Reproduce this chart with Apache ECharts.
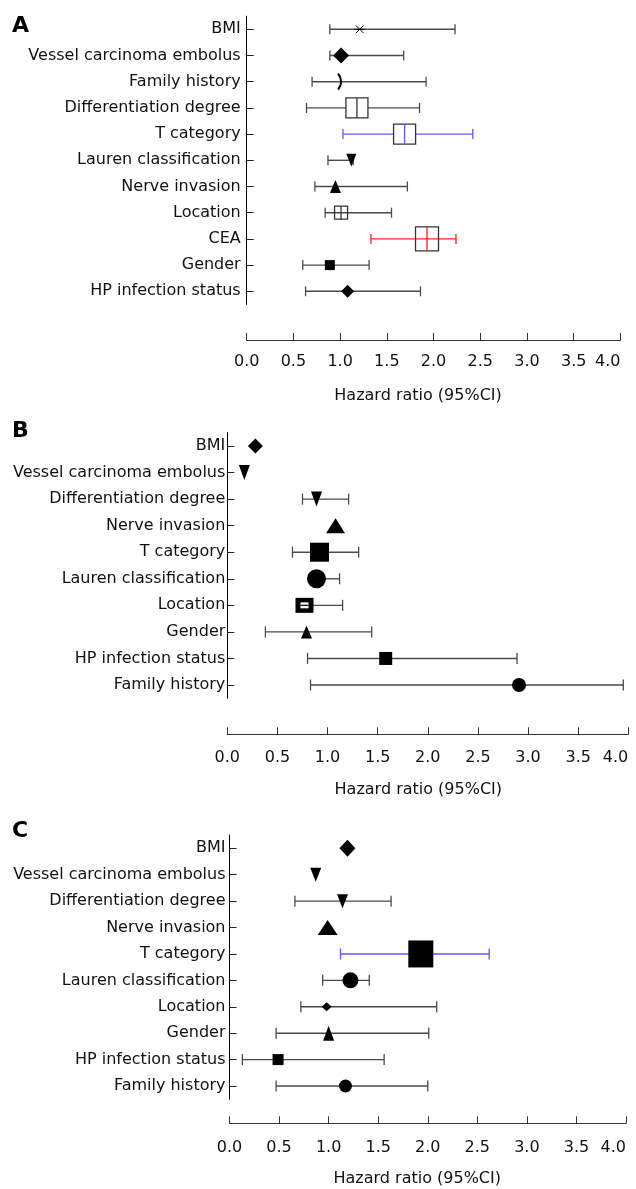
<!DOCTYPE html>
<html><head><meta charset="utf-8">
<script src="https://cdn.jsdelivr.net/npm/echarts@6/dist/echarts.min.js"></script>
<style>html,body{margin:0;padding:0;background:#fff}#c{width:636px;height:1189px}</style>
</head><body><div id="c"></div>
<script>
// ---------- data ----------
const categoriesA = ['BMI','Vessel carcinoma embolus','Family history','Differentiation degree','T category','Lauren classification','Nerve invasion','Location','CEA','Gender','HP infection status'];
const hrA    = [1.21, 1.01, 1.00, 1.18, 1.69, 1.12, 0.95, 1.01, 1.93, 0.89, 1.08];
const lowerA = [0.89, 0.89, 0.70, 0.64, 1.03, 0.87, 0.73, 0.84, 1.33, 0.60, 0.63];
const upperA = [2.23, 1.68, 1.92, 1.85, 2.42, 1.14, 1.72, 1.55, 2.24, 1.31, 1.86];

const categoriesB = ['BMI','Vessel carcinoma embolus','Differentiation degree','Nerve invasion','T category','Lauren classification','Location','Gender','HP infection status','Family history'];
const hrB    = [0.28, 0.17, 0.89, 1.08, 0.92, 0.89, 0.77, 0.79, 1.58, 2.91];
const lowerB = [null, null, 0.75, null, 0.65, 0.82, 0.70, 0.38, 0.80, 0.83];
const upperB = [null, null, 1.21, null, 1.31, 1.12, 1.15, 1.44, 2.89, 3.95];

const categoriesC = ['BMI','Vessel carcinoma embolus','Differentiation degree','Nerve invasion','T category','Lauren classification','Location','Gender','HP infection status','Family history'];
const hrC    = [1.19, 0.87, 1.14, 0.99, 1.93, 1.22, 0.98, 1.00, 0.49, 1.17];
const lowerC = [null, null, 0.66, null, 1.12, 0.94, 0.72, 0.47, 0.13, 0.47];
const upperC = [null, null, 1.63, null, 2.62, 1.41, 2.09, 2.01, 1.56, 2.00];

const xMin = 0, xMax = 4, xStep = 0.5;
const axisTitle = 'Hazard ratio (95%CI)';
const panelLetters = ['A', 'B', 'C'];

// ---------- styles ----------
const FONT = 'DejaVu Sans';
const GREY = '#4a4a4a';
const BLUE = '#5a5af5';
const RED = '#f52020';

const markersA = [
  {s:'asterisk', w:10, h:10},
  {s:'diamond', w:16, h:16},
  {s:'paren', w:6, h:16},
  {s:'box', w:22, h:20, fill:'#fff'},
  {s:'box', w:22, h:20, fill:'#fff', c:BLUE},
  {s:'triDown', w:10, h:13},
  {s:'tri', w:11, h:13},
  {s:'box', w:13, h:13, fill:'none'},
  {s:'box', w:23, h:24, fill:'none', c:RED},
  {s:'square', w:10, h:10},
  {s:'diamond', w:13, h:13}
];
const markersB = [
  {s:'diamond', w:15, h:15},
  {s:'triDown', w:11, h:15},
  {s:'triDown', w:11, h:15},
  {s:'tri', w:19, h:15},
  {s:'square', w:19, h:19},
  {s:'circle', w:19, h:19},
  {s:'thickbox', w:18, h:15},
  {s:'tri', w:11, h:13},
  {s:'square', w:13, h:13},
  {s:'circle', w:14, h:14}
];
const markersC = [
  {s:'diamond', w:16, h:17},
  {s:'triDown', w:11, h:14},
  {s:'triDown', w:11, h:14},
  {s:'tri', w:20, h:15},
  {s:'square', w:25, h:27, c:BLUE},
  {s:'circle', w:16, h:16},
  {s:'diamond', w:10, h:9},
  {s:'tri', w:11, h:15},
  {s:'square', w:11, h:11},
  {s:'circle', w:13, h:13}
];

function markerShape(m, x, y) {
  const w = m.w, h = m.h, k = '#000';
  switch (m.s) {
    case 'diamond': return [{type:'polygon', shape:{points:[[x,y-h/2],[x+w/2,y],[x,y+h/2],[x-w/2,y]]}, style:{fill:k}}];
    case 'tri': return [{type:'polygon', shape:{points:[[x,y-h/2],[x+w/2,y+h/2],[x-w/2,y+h/2]]}, style:{fill:k}}];
    case 'triDown': return [{type:'polygon', shape:{points:[[x-w/2,y-h/2],[x+w/2,y-h/2],[x,y+h/2]]}, style:{fill:k}}];
    case 'square': return [{type:'rect', shape:{x:x-w/2, y:y-h/2, width:w, height:h}, style:{fill:k}}];
    case 'circle': return [{type:'circle', shape:{cx:x, cy:y, r:w/2}, style:{fill:k}}];
    case 'box': return [
      {type:'rect', shape:{x:x-w/2, y:y-h/2, width:w, height:h}, style:{fill:m.fill, stroke:'#333', lineWidth:1.3}},
      {type:'line', shape:{x1:x, y1:y-h/2, x2:x, y2:y+h/2}, style:{stroke:m.c || '#333', lineWidth:1.3}}
    ];
    case 'thickbox': return [
      {type:'rect', shape:{x:x-w/2, y:y-h/2, width:w, height:h}, style:{fill:k}},
      {type:'rect', shape:{x:x-4, y:y-3, width:8, height:6}, style:{fill:'#fff'}},
      {type:'line', shape:{x1:x-4, y1:y, x2:x+4, y2:y}, style:{stroke:k, lineWidth:1.2}}
    ];
    case 'asterisk': return [
      {type:'line', shape:{x1:x-w/2, y1:y, x2:x+w/2, y2:y}, style:{stroke:k, lineWidth:1}},
      {type:'line', shape:{x1:x-w/2.6, y1:y-h/2.6, x2:x+w/2.6, y2:y+h/2.6}, style:{stroke:k, lineWidth:1}},
      {type:'line', shape:{x1:x+w/2.6, y1:y-h/2.6, x2:x-w/2.6, y2:y+h/2.6}, style:{stroke:k, lineWidth:1}}
    ];
    case 'paren': return [
      {type:'bezierCurve', shape:{x1:x-2, y1:y-h/2, cpx1:x+4, cpy1:y, x2:x-2, y2:y+h/2}, style:{stroke:k, lineWidth:2, fill:'none'}}
    ];
  }
  return [];
}

function forestSeries(gi, hr, lo, hi, markers, cap) {
  return {
    type: 'custom', xAxisIndex: gi, yAxisIndex: gi, silent: true, clip: false,
    data: hr.map((v, i) => [v, i]),
    encode: {x: 0, y: 1},
    renderItem: function (params, api) {
      const i = params.dataIndex;
      const m = markers[i];
      const p = api.coord([api.value(0), api.value(1)]);
      const children = [];
      if (lo[i] != null && hi[i] != null) {
        const a = api.coord([lo[i], i]), b = api.coord([hi[i], i]);
        const col = m.c || GREY;
        children.push({type:'line', shape:{x1:a[0], y1:a[1], x2:b[0], y2:b[1]}, style:{stroke:col, lineWidth:1.4}});
        children.push({type:'line', shape:{x1:a[0], y1:a[1]-cap/2, x2:a[0], y2:a[1]+cap/2}, style:{stroke:col, lineWidth:1.3}});
        children.push({type:'line', shape:{x1:b[0], y1:b[1]-cap/2, x2:b[0], y2:b[1]+cap/2}, style:{stroke:col, lineWidth:1.3}});
      }
      markerShape(m, p[0], p[1]).forEach(c => children.push(c));
      return {type: 'group', children};
    }
  };
}

const grids = [
  {left: 246.7, right: 15.6, top: 16.2, height: 288.2},
  {left: 227.3, right: 7.7, top: 432.7, height: 265.6},
  {left: 229.5, right: 10, top: 835.1, height: 264.1}
];
const xOffsets = [35.6, 36, 24.1];
const xLabelMargins = [14, 16, 17];
const yLabelMargins = [6, 2, 4];
const namePads = [31, 19, 21];
const cats = [categoriesA, categoriesB, categoriesC];
const letterY = [27.5, 432, 832.5];

const option = {
  backgroundColor: '#fff',
  animation: false,
  grid: grids,
  xAxis: grids.map((g, i) => ({
    type: 'value', gridIndex: i, min: xMin, max: xMax, interval: xStep,
    offset: xOffsets[i],
    splitLine: {show: false},
    axisLine: {show: true, lineStyle: {color: '#333', width: 1}},
    axisTick: {show: true, inside: true, length: 7, lineStyle: {color: '#333'}},
    axisLabel: {margin: xLabelMargins[i], fontFamily: FONT, fontSize: 16, color: '#111',
      formatter: v => v.toFixed(1), alignMaxLabel: 'right'},
    name: axisTitle, nameLocation: 'middle', nameGap: 48,
    nameTextStyle: {fontFamily: FONT, fontSize: 16, color: '#111', padding: [0, namePads[i], 0, 0]}
  })),
  yAxis: grids.map((g, i) => ({
    type: 'category', gridIndex: i, data: cats[i], inverse: true,
    axisLine: {show: true, lineStyle: {color: '#000', width: 1}},
    axisTick: {show: true, inside: true, length: 7, alignWithLabel: true, lineStyle: {color: '#222'}},
    axisLabel: {margin: yLabelMargins[i], fontFamily: FONT, fontSize: 16, color: '#111', interval: 0},
    splitLine: {show: false}
  })),
  graphic: panelLetters.map((t, i) => ({
    type: 'text', left: 12, top: letterY[i] - 12,
    style: {text: t, fontFamily: FONT, fontWeight: 'bold', fontSize: 22, fill: '#000'}
  })),
  series: [
    forestSeries(0, hrA, lowerA, upperA, markersA, 10),
    forestSeries(1, hrB, lowerB, upperB, markersB, 11),
    forestSeries(2, hrC, lowerC, upperC, markersC, 11)
  ]
};
const chart = echarts.init(document.getElementById('c'), null, {renderer: 'canvas'});
chart.setOption(option);
</script></body></html>
